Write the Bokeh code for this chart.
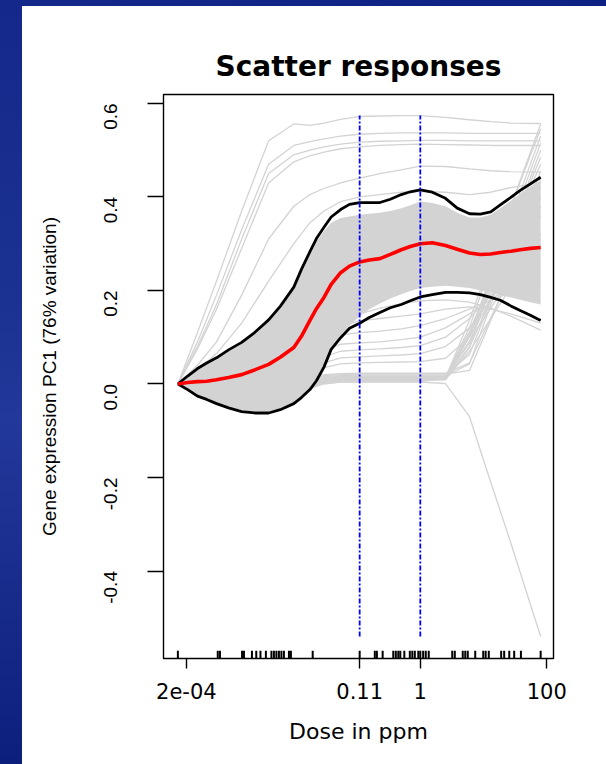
import math
from bokeh.plotting import figure
from bokeh.models import Range1d, FixedTicker, CustomJSTickFormatter, Div
from bokeh.layouts import row, column
from bokeh.embed import file_html
from bokeh.resources import INLINE

# ---------------- data ----------------
# summary curves, read on a fine dose grid
curve_dose = [1.47e-4, 2.1e-4, 3e-4, 4.2e-4, 6e-4, 9.3e-4, 1.5e-3, 2.4e-3, 4e-3, 6.1e-3,
              0.01, 0.0132, 0.018, 0.0228, 0.03, 0.039, 0.055, 0.076, 0.11, 0.156,
              0.23, 0.336, 0.5, 0.695, 1, 1.55, 2.5, 3.84, 6, 8.9,
              13, 18.4, 27, 38, 55, 80]
median_curve = [0, 0.003, 0.005, 0.006, 0.009, 0.014, 0.020, 0.030, 0.042, 0.057,
                0.078, 0.102, 0.136, 0.161, 0.185, 0.213, 0.238, 0.252, 0.261, 0.265,
                0.268, 0.277, 0.287, 0.294, 0.300, 0.302, 0.296, 0.288, 0.280, 0.277,
                0.278, 0.281, 0.284, 0.287, 0.290, 0.292]
upper_curve = [0, 0.017, 0.033, 0.045, 0.056, 0.073, 0.089, 0.110, 0.137, 0.166,
               0.207, 0.245, 0.283, 0.311, 0.335, 0.357, 0.373, 0.384, 0.388, 0.388,
               0.388, 0.395, 0.405, 0.411, 0.415, 0.410, 0.397, 0.376, 0.364, 0.363,
               0.368, 0.383, 0.399, 0.414, 0.428, 0.442]
lower_curve = [0, -0.012, -0.026, -0.033, -0.042, -0.051, -0.059, -0.062, -0.062, -0.055,
               -0.042, -0.029, -0.012, 0.007, 0.036, 0.074, 0.099, 0.119, 0.130, 0.142,
               0.153, 0.163, 0.170, 0.178, 0.186, 0.191, 0.196, 0.196, 0.195, 0.191,
               0.185, 0.179, 0.167, 0.157, 0.147, 0.136]

# dense bundle of gene responses (edges of the solid grey mass)
band_hi = [0, 0.014, 0.030, 0.042, 0.053, 0.070, 0.086, 0.107, 0.134, 0.163,
           0.203, 0.240, 0.277, 0.304, 0.327, 0.345, 0.355, 0.358, 0.362, 0.364,
           0.366, 0.370, 0.376, 0.382, 0.390, 0.387, 0.380, 0.366, 0.356, 0.356,
           0.362, 0.376, 0.392, 0.407, 0.421, 0.435]
band_lo = [0, -0.010, -0.023, -0.030, -0.039, -0.048, -0.056, -0.059, -0.059, -0.052,
           -0.039, -0.026, -0.009, 0.010, 0.040, 0.078, 0.105, 0.125, 0.145, 0.160,
           0.172, 0.183, 0.192, 0.199, 0.205, 0.208, 0.210, 0.208, 0.205, 0.200,
           0.196, 0.190, 0.185, 0.180, 0.175, 0.170]

# individual gene responses outside / at the edge of the bundle (coarse dose grid)
dose = [1.47e-4, 3e-4, 6e-4, 1.5e-3, 4e-3, 0.01, 0.018, 0.03, 0.055, 0.11,
        0.23, 0.5, 1, 2.5, 6, 13, 27, 80]
gene_g1 = [0, 0.11, 0.22, 0.37, 0.52, 0.556, 0.553, 0.558, 0.566, 0.572, 0.573, 0.574, 0.574, 0.570, 0.565, 0.561, 0.558, 0.557]
gene_g2 = [0, 0.09, 0.19, 0.33, 0.47, 0.510, 0.518, 0.524, 0.530, 0.534, 0.536, 0.537, 0.537, 0.537, 0.536, 0.536, 0.536, 0.536]
gene_g3 = [0, 0.08, 0.17, 0.31, 0.45, 0.490, 0.500, 0.507, 0.513, 0.517, 0.519, 0.520, 0.521, 0.521, 0.520, 0.520, 0.520, 0.520]
gene_g4 = [0, 0.075, 0.16, 0.29, 0.43, 0.475, 0.488, 0.496, 0.503, 0.507, 0.510, 0.512, 0.513, 0.512, 0.511, 0.510, 0.510, 0.510]
gene_g5 = [0, 0.04, 0.09, 0.19, 0.31, 0.380, 0.405, 0.418, 0.430, 0.440, 0.450, 0.458, 0.466, 0.465, 0.460, 0.456, 0.454, 0.453]
gene_g7 = [0, 0.03, 0.065, 0.13, 0.22, 0.300, 0.345, 0.370, 0.390, 0.400, 0.405, 0.410, 0.412, 0.410, 0.405, 0.410, 0.420, 0.430]

gene_r1 = [0, -0.018, -0.032, -0.042, -0.040, -0.022, 0.000, 0.008, 0.011, 0.012, 0.012, 0.012, 0.012, 0.012, 0.121, 0.254, 0.380, 0.556]
gene_r2 = [0, -0.016, -0.030, -0.040, -0.038, -0.020, 0.002, 0.010, 0.013, 0.014, 0.014, 0.014, 0.014, 0.014, 0.101, 0.232, 0.356, 0.530]
gene_r3 = [0, -0.020, -0.035, -0.046, -0.044, -0.026, -0.003, 0.006, 0.009, 0.010, 0.010, 0.010, 0.010, 0.010, 0.080, 0.209, 0.330, 0.500]
gene_r4 = [0, -0.014, -0.027, -0.036, -0.033, -0.015, 0.006, 0.012, 0.015, 0.016, 0.016, 0.016, 0.016, 0.016, 0.112, 0.221, 0.325, 0.470]
gene_r5 = [0, -0.012, -0.024, -0.032, -0.028, -0.010, 0.010, 0.016, 0.018, 0.019, 0.019, 0.019, 0.019, 0.019, 0.063, 0.178, 0.287, 0.440]
gene_r6 = [0, -0.022, -0.038, -0.050, -0.050, -0.032, -0.008, 0.003, 0.007, 0.008, 0.008, 0.008, 0.008, 0.012, 0.106, 0.196, 0.281, 0.400]
gene_r7 = [0, -0.010, -0.020, -0.028, -0.024, -0.006, 0.012, 0.020, 0.022, 0.023, 0.023, 0.023, 0.023, 0.023, 0.045, 0.141, 0.233, 0.360]
gene_r8 = [0, -0.024, -0.040, -0.053, -0.053, -0.036, -0.010, 0.000, 0.004, 0.005, 0.005, 0.005, 0.005, 0.012, 0.092, 0.162, 0.228, 0.320]
gene_r9 = [0, -0.017, -0.031, -0.041, -0.039, -0.021, 0.001, 0.009, 0.012, 0.012, 0.012, 0.012, 0.012, 0.012, 0.137, 0.262, 0.380, 0.545]
gene_r10 = [0, -0.015, -0.029, -0.038, -0.036, -0.018, 0.004, 0.011, 0.013, 0.013, 0.013, 0.013, 0.013, 0.013, 0.088, 0.218, 0.342, 0.515]
gene_r11 = [0, -0.019, -0.034, -0.044, -0.042, -0.024, -0.002, 0.007, 0.010, 0.011, 0.011, 0.011, 0.011, 0.011, 0.102, 0.219, 0.330, 0.485]
gene_r12 = [0, -0.013, -0.025, -0.034, -0.030, -0.012, 0.008, 0.014, 0.016, 0.017, 0.017, 0.017, 0.017, 0.017, 0.043, 0.169, 0.288, 0.455]
gene_r13 = [0, -0.021, -0.037, -0.048, -0.047, -0.029, -0.005, 0.005, 0.008, 0.009, 0.009, 0.009, 0.009, 0.009, 0.078, 0.182, 0.281, 0.420]
gene_r14 = [0, -0.011, -0.022, -0.030, -0.026, -0.008, 0.011, 0.018, 0.020, 0.021, 0.021, 0.021, 0.021, 0.021, 0.029, 0.136, 0.238, 0.380]
gene_r15 = [0, -0.023, -0.039, -0.051, -0.051, -0.034, -0.009, 0.002, 0.006, 0.007, 0.007, 0.007, 0.007, 0.010, 0.070, 0.140, 0.207, 0.300]
gene_d1 = [0, -0.020, -0.036, -0.047, -0.046, -0.030, -0.006, 0.002, 0.004, 0.004, 0.004, 0.004, 0.004, 0.001, -0.070, -0.210, -0.340, -0.540]

gene_m1 = [0, -0.015, -0.030, -0.040, -0.040, -0.020, 0.010, 0.035, 0.043, 0.045, 0.046, 0.047, 0.048, 0.055, 0.100, 0.180, 0.260, 0.380]
gene_m2 = [0, -0.012, -0.025, -0.035, -0.030, -0.010, 0.020, 0.045, 0.056, 0.058, 0.060, 0.062, 0.065, 0.080, 0.120, 0.180, 0.240, 0.310]
gene_m3 = [0, -0.010, -0.020, -0.028, -0.022, 0.000, 0.030, 0.058, 0.070, 0.073, 0.075, 0.078, 0.082, 0.100, 0.140, 0.190, 0.230, 0.270]
gene_m4 = [0, -0.008, -0.015, -0.020, -0.012, 0.012, 0.045, 0.072, 0.085, 0.088, 0.090, 0.095, 0.100, 0.120, 0.150, 0.180, 0.210, 0.240]
gene_m5 = [0, -0.006, -0.010, -0.012, 0.000, 0.030, 0.065, 0.090, 0.105, 0.110, 0.113, 0.118, 0.125, 0.140, 0.160, 0.180, 0.195, 0.210]
gene_m6 = [0, -0.004, -0.006, -0.005, 0.012, 0.050, 0.085, 0.110, 0.125, 0.135, 0.140, 0.145, 0.150, 0.160, 0.165, 0.160, 0.150, 0.130]
gene_m7 = [0, -0.005, -0.008, -0.010, 0.000, 0.035, 0.075, 0.105, 0.130, 0.150, 0.162, 0.172, 0.178, 0.180, 0.175, 0.162, 0.145, 0.115]

gene_lines = [gene_g1, gene_g2, gene_g3, gene_g4, gene_g5, gene_g7,
              gene_r1, gene_r2, gene_r3, gene_r4, gene_r5, gene_r6, gene_r7, gene_r8,
              gene_r9, gene_r10, gene_r11, gene_r12, gene_r13, gene_r14, gene_r15,
              gene_d1, gene_m1, gene_m2, gene_m3, gene_m4, gene_m5, gene_m6, gene_m7]

# doses marked on the rug
rug_doses = [1.47e-4, 6.28e-4, 6.8e-4, 1.52e-3, 1.63e-3, 2.18e-3, 2.55e-3, 2.97e-3, 3.62e-3,
             4.43e-3, 4.85e-3, 5.31e-3, 5.82e-3, 6.37e-3, 6.98e-3, 8.38e-3, 9.0e-3, 0.0199,
             0.11, 0.191, 0.206, 0.254, 0.374, 0.410, 0.449, 0.483, 0.559, 0.683, 0.748,
             0.819, 0.930, 1.0, 1.11, 1.22, 1.36, 3.2, 3.51, 4.69, 5.14, 5.63, 7.39, 9.89,
             10.8, 12.1, 19.0, 21.2, 25.5, 30.5, 39.0, 80]

ref_doses = [0.11, 1]
x_ticks = [0.0002, 0.11, 1, 100]
x_tick_labels = ["2e-04", "0.11", "1", "100"]
y_ticks = [-0.4, -0.2, 0.0, 0.2, 0.4, 0.6]

# ---------------- figure ----------------
x_lo, x_hi = 10 ** -4.06, 10 ** 2.106
y_lo, y_hi = -0.587, 0.619

p = figure(width=584, height=758, x_axis_type="log",
           x_range=Range1d(x_lo, x_hi), y_range=Range1d(y_lo, y_hi),
           output_backend="svg", toolbar_location=None,
           min_border_left=141, min_border_right=53,
           min_border_top=88, min_border_bottom=106,
           title="Scatter responses")
p.background_fill_color = "white"
p.border_fill_color = "white"
p.outline_line_color = "black"
p.outline_line_width = 1.4
p.xgrid.visible = False
p.ygrid.visible = False

p.title.align = "center"
p.title.text_font = "DejaVu Sans"
p.title.text_font_size = "28px"
p.title.text_font_style = "bold"
p.title.text_color = "black"
p.title.standoff = 24

xa = p.xaxis[0]
xa.ticker = FixedTicker(ticks=x_ticks, minor_ticks=[])
xa.formatter = CustomJSTickFormatter(
    args=dict(tvals=x_ticks, tlabels=x_tick_labels),
    code="""
    for (let i = 0; i < tvals.length; i++) {
        if (Math.abs(tvals[i] - tick) <= 1e-9 * Math.abs(tvals[i])) { return tlabels[i]; }
    }
    return String(tick);
    """)
xa.axis_line_color = None
xa.major_tick_out = 10
xa.major_tick_in = 0
xa.minor_tick_out = 0
xa.minor_tick_in = 0
xa.major_tick_line_color = "black"
xa.major_tick_line_width = 1.4
xa.major_label_text_font = "DejaVu Sans"
xa.major_label_text_font_size = "21px"
xa.major_label_text_color = "black"
xa.major_label_standoff = 14
xa.axis_label = "Dose in ppm"
xa.axis_label_text_font = "DejaVu Sans"
xa.axis_label_text_font_size = "22px"
xa.axis_label_text_font_style = "normal"
xa.axis_label_text_color = "black"
xa.axis_label_standoff = 17

ya = p.yaxis[0]
ya.ticker = FixedTicker(ticks=y_ticks, minor_ticks=[])
ya.formatter = CustomJSTickFormatter(code="return tick.toFixed(1);")
ya.axis_line_color = None
ya.major_tick_out = 16
ya.major_tick_in = 0
ya.minor_tick_out = 0
ya.minor_tick_in = 0
ya.major_tick_line_color = "black"
ya.major_tick_line_width = 1.4
ya.major_label_orientation = math.pi / 2
ya.major_label_text_font = "Liberation Sans"
ya.major_label_text_font_size = "19px"
ya.major_label_text_color = "black"
ya.major_label_standoff = 37
ya.axis_label = "Gene expression PC1 (76% variation)"
ya.axis_label_text_font = "Liberation Sans"
ya.axis_label_text_font_size = "19px"
ya.axis_label_text_font_style = "normal"
ya.axis_label_text_color = "black"
ya.axis_label_standoff = 35

gray = "#d3d3d3"
p.varea(x=curve_dose, y1=band_lo, y2=band_hi, fill_color=gray, fill_alpha=1.0)
p.multi_line(xs=[dose] * len(gene_lines), ys=gene_lines, line_color=gray, line_width=1.3)

p.line(curve_dose, upper_curve, line_color="black", line_width=2.8)
p.line(curve_dose, lower_curve, line_color="black", line_width=2.8)
p.line(curve_dose, median_curve, line_color="red", line_width=3.6)

all_vals = [v for s in gene_lines for v in s]
y_min, y_max = min(all_vals), max(all_vals)
p.segment(x0=ref_doses, y0=[y_min] * len(ref_doses), x1=ref_doses, y1=[y_max] * len(ref_doses),
          line_color="blue", line_width=1.8, line_dash="5 2 2 2")

rug_len = 0.0165 * (y_hi - y_lo) / 1.206
p.segment(x0=rug_doses, y0=[y_lo] * len(rug_doses), x1=rug_doses,
          y1=[y_lo + rug_len] * len(rug_doses), line_color="black", line_width=2)

# ---------------- page frame (blue slide border) ----------------
left_bar = Div(text="", width=22, height=764, margin=0,
               styles={"background": "linear-gradient(180deg, #13288a 0%, #1c3292 40%, #22389a 55%, #0d1f7d 100%)"})
top_bar = Div(text="", width=584, height=6, margin=0,
              styles={"background": "linear-gradient(90deg, #13288a 0%, #0e2182 100%)"})
layout = row(left_bar, column(top_bar, p, spacing=0), spacing=0)

open("out.html", "w").write(file_html(layout, INLINE))
